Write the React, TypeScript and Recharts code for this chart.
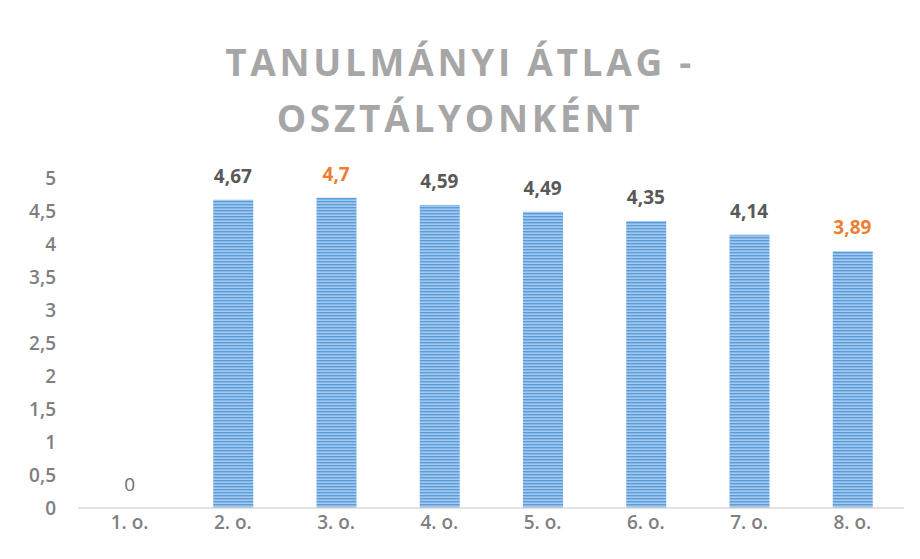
import React from 'react';
import { ComposedChart, Bar, Line, XAxis, YAxis, LabelList } from 'recharts';

const categories = ['1. o.', '2. o.', '3. o.', '4. o.', '5. o.', '6. o.', '7. o.', '8. o.'];
const averages = [0, 4.67, 4.7, 4.59, 4.49, 4.35, 4.14, 3.89];
const yTicks = [0, 0.5, 1, 1.5, 2, 2.5, 3, 3.5, 4, 4.5, 5];
const highlighted = ['3. o.', '8. o.'];
const titleLines = ['TANULMÁNYI ÁTLAG -', 'OSZTÁLYONKÉNT'];

const data = categories.map((c, i) => ({ name: c, value: averages[i] }));

const fmt = (v: number) => String(v).replace('.', ',');
const FONT = '"Open Sans", "Noto Sans", sans-serif';

const ValueLabel = (props: any) => {
  const { x, y, value, index } = props;
  const isHi = highlighted.includes(categories[index]);
  const isZero = value === 0;
  return (
    <text
      x={x}
      y={y - 17}
      textAnchor="middle"
      fill={isHi ? '#ED7D31' : isZero ? '#6F6F6F' : '#595959'}
      fontSize={19}
      fontWeight={isZero ? 400 : 700}
      fontFamily={FONT}
    >
      {fmt(value)}
    </text>
  );
};

export default function App() {
  return (
    <div style={{ position: 'absolute', left: 0, top: 0, width: 920, height: 559, background: '#fff', fontFamily: FONT }}>
      <div
        style={{
          position: 'absolute',
          left: 0,
          top: 34,
          width: 920,
          textAlign: 'center',
          color: '#A6A6A6',
          fontSize: 37,
          fontWeight: 700,
          letterSpacing: 3.7,
          lineHeight: '56px',
        }}
      >
        {titleLines.map((t) => (
          <div key={t}>{t}</div>
        ))}
      </div>
      <ComposedChart
        width={920}
        height={559}
        data={data}
        margin={{ top: 178, right: 16, bottom: 0, left: 0 }}
        barCategoryGap={0}
      >
        <defs>
          <pattern id="stripes" width="4" height="3" patternUnits="userSpaceOnUse">
            <rect width="4" height="3" fill="#A4C9EE" />
            <rect width="4" height="1.4" y="0" fill="#5A9CDA" />
          </pattern>
        </defs>
        <XAxis
          dataKey="name"
          height={51}
          tickLine={false}
          tickSize={0}
          tickMargin={8}
          axisLine={{ stroke: '#D9D9D9', strokeWidth: 1.5 }}
          tick={{ fill: '#7F7F7F', fontSize: 19, fontWeight: 600, fontFamily: FONT }}
          interval={0}
        />
        <YAxis
          width={78}
          domain={[0, 5]}
          ticks={yTicks}
          interval={0}
          axisLine={false}
          tickLine={false}
          tickSize={0}
          tickMargin={22}
          tickFormatter={fmt}
          tick={{ fill: '#7F7F7F', fontSize: 19, fontWeight: 600, fontFamily: FONT }}
        />
        <Bar dataKey="value" barSize={40} fill="url(#stripes)" isAnimationActive={false} />
        <Line
          dataKey="value"
          stroke="none"
          dot={false}
          activeDot={false}
          legendType="none"
          isAnimationActive={false}
        >
          <LabelList dataKey="value" content={ValueLabel} />
        </Line>
      </ComposedChart>
    </div>
  );
}
